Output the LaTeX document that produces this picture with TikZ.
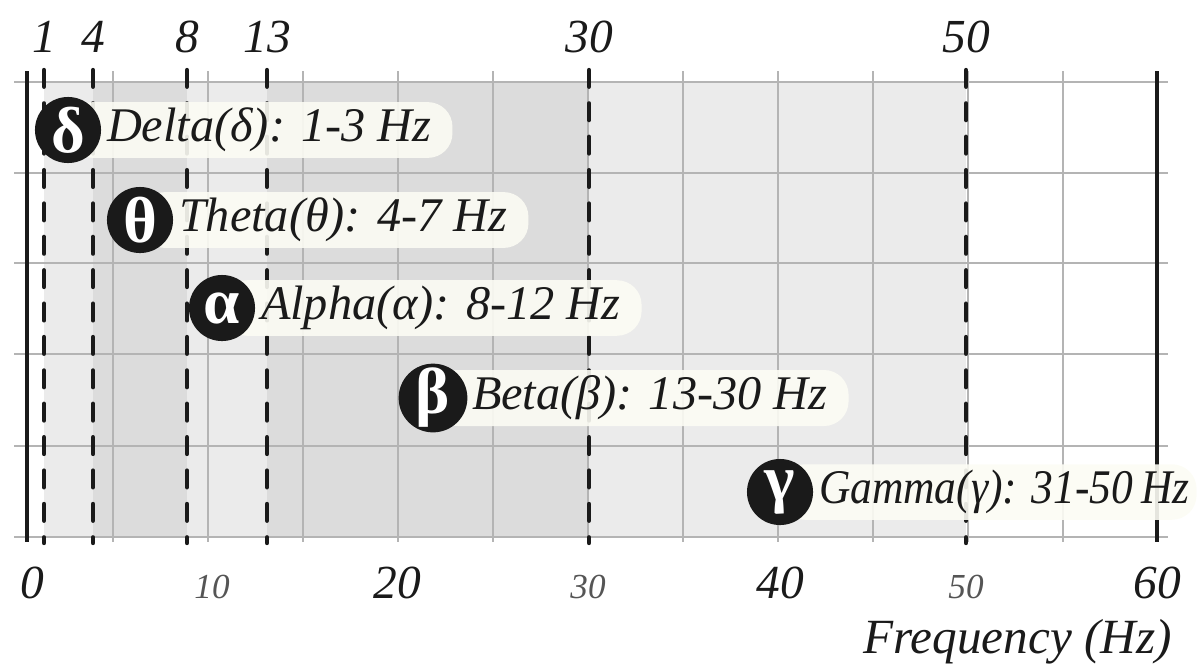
\documentclass[tikz,border=0pt]{standalone}
\usepackage{fontspec}
\setmainfont{Liberation Serif}
\usetikzlibrary{positioning}

\definecolor{bandlight}{HTML}{EBEBEB}
\definecolor{banddark}{HTML}{DCDCDC}
\definecolor{gridgray}{HTML}{B4B4B4}
\definecolor{ink}{HTML}{1A1A1A}
\definecolor{ivory}{HTML}{FCFCF4}
\definecolor{tickgray}{HTML}{555555}

\newcommand{\tagpad}{\hspace*{10pt}}

\begin{document}
\begin{tikzpicture}[x=0.02cm, y=-0.02cm,
    gridline/.style={gridgray, line width=0.8pt},
    bandedge/.style={ink, line width=2.5pt, line cap=round, dash pattern=on 9.5pt off 9.5pt},
    axisedge/.style={ink, line width=2.3pt},
    pill/.style={fill=ivory, fill opacity=0.9, text opacity=1, rounded corners=14pt,
        minimum height=28.5pt, inner xsep=12pt, anchor=west, text=ink,
        font=\fontsize{27.5}{30}\selectfont\itshape},
    greekdot/.style={circle, fill=ink, minimum size=37.6pt, inner sep=0pt, text=white,
        font=\fontsize{37}{37}\selectfont\bfseries},
    toplabel/.style={anchor=base, text=ink, font=\fontsize{27}{30}\selectfont\itshape},
    bigtick/.style={anchor=base, text=ink, font=\fontsize{27}{30}\selectfont\itshape},
    smalltick/.style={anchor=base, text=tickgray, font=\fontsize{20}{24}\selectfont\itshape}]
    \useasboundingbox (0,0) rectangle (1202,670);

    % bands
    \fill[bandlight] (44,82) rectangle (93,537);
    \fill[banddark] (93,82) rectangle (187,537);
    \fill[bandlight] (187,82) rectangle (267,537);
    \fill[banddark] (267,82) rectangle (589,537);
    \fill[bandlight] (589,82) rectangle (966,537);

    % grid
    \foreach \y in {82,173,263,354,446,537}
        \draw[gridline] (14,\y) -- (1168,\y);
    \foreach \f in {5,10,...,55}
        \draw[gridline] ({18+19*\f},71) -- ({18+19*\f},542);
    \draw[axisedge] (27,71) -- (27,542);
    \draw[axisedge] (1157,71) -- (1157,542);

    % band limits
    \foreach \hz/\x in {1/44, 4/93, 8/187, 13/267, 30/589, 50/966} {
        \draw[bandedge] (\x,70) -- (\x,543);
        \node[toplabel] (top\hz) at (\x,52) {\hz};
    }

    % axis
    \foreach \hz/\x in {0/32, 20/397, 40/780, 60/1157}
        \node[bigtick] (tick\hz) at (\x,598) {\hz};
    \foreach \hz/\x in {10/212, 30/588, 50/966}
        \node[smalltick] (tick\hz) at (\x,598) {\hz};
    \node[bigtick, anchor=base east, font=\fontsize{28}{32}\selectfont\itshape] (freq) at (1178,653) {Frequency (Hz)};

    % labels
    \node[pill] (deltatag) at (68,130) {\tagpad Delta(δ): 1-3 Hz};
    \node[greekdot] (delta) at (deltatag.west) {δ};
    \node[pill] (thetatag) at (140,220) {\tagpad Theta(θ): 4-7 Hz};
    \node[greekdot] (theta) at (thetatag.west) {θ};
    \node[pill] (alphatag) at (222,308) {\tagpad Alpha(α): 8-12 Hz};
    \node[greekdot] (alpha) at (alphatag.west) {α};
    \node[pill] (betatag) at (433,398) {\tagpad Beta(β): 13-30 Hz};
    \node[greekdot] (beta) at (betatag.west) {β};
    \node[pill, inner xsep=4pt, minimum height=31pt] (gammatag) at (780,492)
        {\hspace*{18pt}\addfontfeature{FakeStretch=0.9}Gamma(γ): 31-50\,Hz};
    \node[greekdot] (gamma) at (gammatag.west) {γ};
\end{tikzpicture}
\end{document}
